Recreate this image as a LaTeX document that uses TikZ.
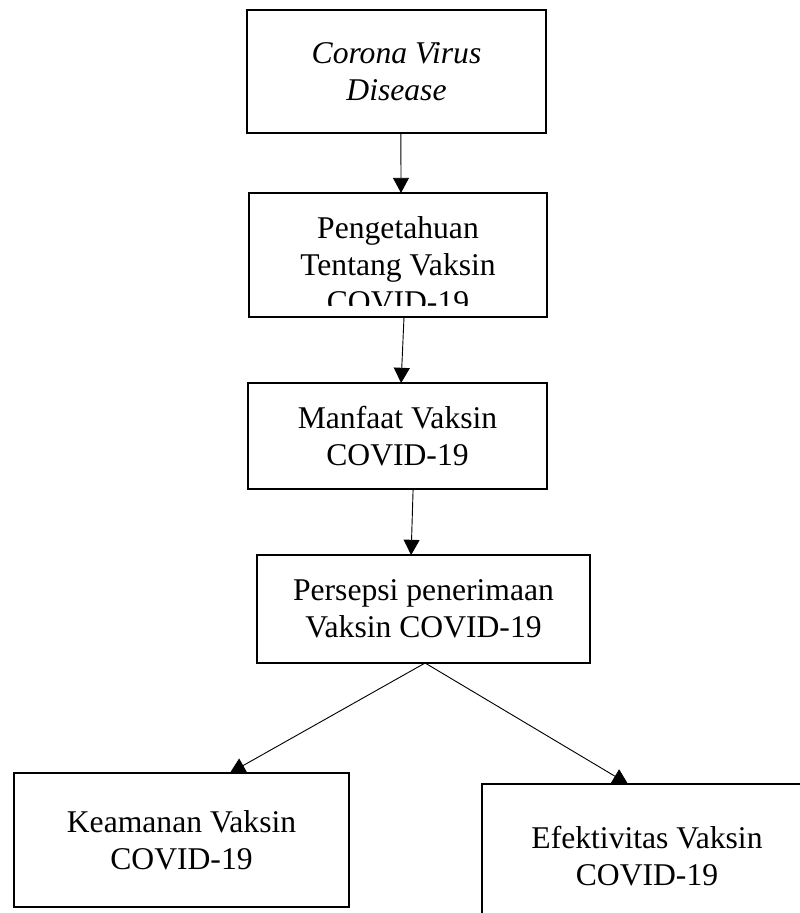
\documentclass[tikz,border=0pt]{standalone}
\usepackage{fontspec}
\setmainfont{Liberation Serif}
\usetikzlibrary{calc,arrows.meta}

\tikzset{
  kotak/.style={draw,line width=1.3pt,inner sep=0pt,outer sep=0pt,align=center,
    font=\fontsize{22.5pt}{26.4pt}\selectfont},
  panah/.style={line width=0.65pt,-{Triangle[length=0.38cm,width=0.4cm]}}
}

\begin{document}
\begin{tikzpicture}
    % Page frame
    \clip (0,0) rectangle (20,-22.825);
    \fill[white] (0,0) rectangle (20,-22.825);
    % Boxes
    \node[kotak,minimum width=7.475cm,minimum height=3.075cm] (CVD) at (9.9125,-1.7875) {\itshape Corona Virus\\\itshape Disease};
    \node[kotak,minimum width=7.45cm,minimum height=3.1cm,
      path picture={
        \clip ([yshift=0.3cm]path picture bounding box.south west) rectangle (path picture bounding box.north east);
        \node[align=center,font=\fontsize{22.5pt}{26.4pt}\selectfont] at ([yshift=-0.25cm]path picture bounding box.center) {Pengetahuan\\Tentang Vaksin\\COVID-19};
      }] (PTV) at (9.95,-6.375) {}; % last line cut off
    \node[kotak,minimum width=7.475cm,minimum height=2.65cm] (MV) at (9.9375,-10.9) {Manfaat Vaksin\\COVID-19};
    \node[kotak,minimum width=8.325cm,minimum height=2.7cm] (PPV) at (10.5875,-15.225) {Persepsi penerimaan\\Vaksin COVID-19};
    \node[kotak,minimum width=8.375cm,minimum height=3.35cm] (KV) at (4.5375,-21.0) {Keamanan Vaksin\\COVID-19};
    \node[kotak,minimum width=8.25cm,minimum height=3.6cm] (EV) at (16.175,-21.4) {Efektivitas Vaksin\\COVID-19};
    % Arrows
    \draw[panah] ([xshift=0.11cm]CVD.south) -- ([xshift=0.075cm]PTV.north);
    \draw[panah] ([xshift=0.15cm]PTV.south) -- ([xshift=0.09cm]MV.north);
    \draw[panah] ([xshift=0.39cm]MV.south) -- ([xshift=-0.31cm]PPV.north);
    \draw[panah] ([xshift=0.04cm]PPV.south) -- ([xshift=1.21cm]KV.north);
    \draw[panah] ([xshift=0.04cm]PPV.south) -- ([xshift=-0.475cm]EV.north);
\end{tikzpicture}
\end{document}
